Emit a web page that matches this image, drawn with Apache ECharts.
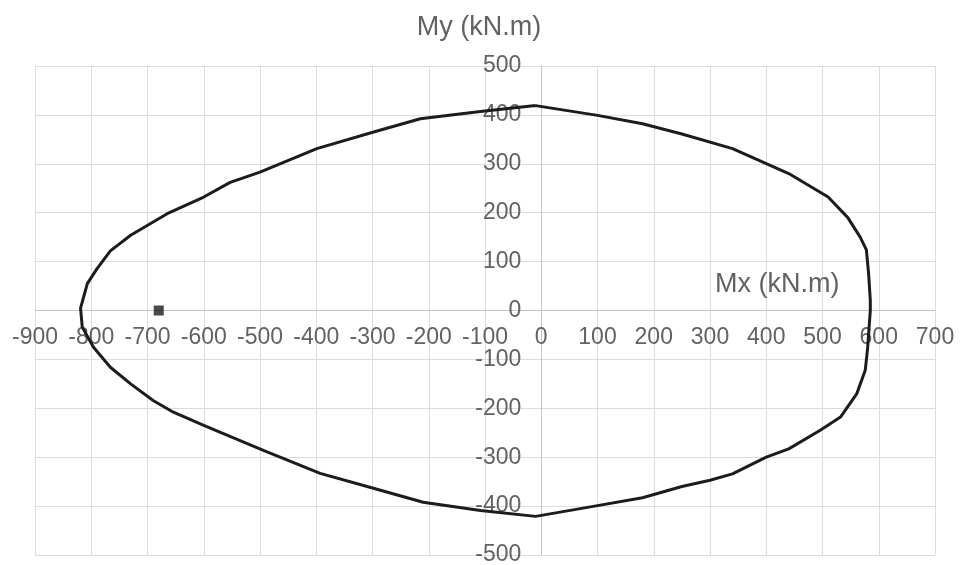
<!DOCTYPE html>
<html>
<head>
<meta charset="utf-8">
<script src="https://cdn.jsdelivr.net/npm/echarts@6/dist/echarts.min.js"></script>
<style>
html,body{margin:0;padding:0;background:#fff;}
#chart{width:960px;height:565px;}
</style>
</head>
<body>
<div id="chart"></div>
<script>
// Interaction envelope (closed curve), Mx / My in kN.m
const envMx = [-10, 100, 180, 250, 340, 440, 510, 545, 567, 578, 582, 585, 585, 580, 576, 561, 532, 496, 440, 400, 340, 300, 250, 180, 100, -10, -108, -210, -300, -393, -494, -600, -654, -690, -730, -766, -796, -816, -819, -807, -790, -766, -730, -665, -600, -553, -500, -399, -298, -215, -108, -10];
const envMy = [419, 399, 382, 361, 331, 280, 232, 190, 150, 124, 75, 20, 0, -80, -122, -170, -218, -245, -283, -300, -334, -347, -360, -383, -399, -421, -409, -392, -363, -333, -286, -235, -208, -184, -150, -116, -75, -34, 5, 55, 85, 122, 154, 198, 232, 262, 283, 331, 365, 392, 407, 419];
// Applied load point
const loadMx = [-680];
const loadMy = [0];
// Axis ranges
const xMin = -900, xMax = 700, xStep = 100;
const yMin = -500, yMax = 500, yStep = 100;
const xTitle = 'Mx (kN.m)';
const yTitle = 'My (kN.m)';

const envData = envMx.map((x, i) => [x, envMy[i]]);
const loadData = loadMx.map((x, i) => [x, loadMy[i]]);

const labelColor = '#626262';
const font = 'Liberation Sans, Arial, sans-serif';

// layout of plot area
const G = {left: 35, right: 25, top: 66, bottom: 10};
const W = 960 - G.left - G.right, H = 565 - G.top - G.bottom;
// shift axes so they cross at the origin (0,0)
const yAxisShift = -W * (0 - xMin) / (xMax - xMin);
const xAxisShift = -H * (0 - yMin) / (yMax - yMin);

const chart = echarts.init(document.getElementById('chart'));
chart.setOption({
  animation: false,
  backgroundColor: '#ffffff',
  grid: Object.assign({containLabel: false, outerBoundsMode: 'none'}, G),
  xAxis: {
    type: 'value', min: xMin, max: xMax, interval: xStep,
    position: 'bottom', offset: xAxisShift,
    name: xTitle, nameLocation: 'end', nameGap: -220,
    nameTextStyle: {color: labelColor, fontSize: 27, fontFamily: font, align: 'left', verticalAlign: 'bottom', padding: [0, 0, 12, 0]},
    axisLine: {onZero: false, lineStyle: {color: '#c4c4c4', width: 1}},
    axisTick: {show: false},
    axisLabel: {color: labelColor, fontSize: 23, fontFamily: font, margin: 16},
    splitLine: {show: true, lineStyle: {color: '#dcdcdc', width: 1}}
  },
  yAxis: {
    type: 'value', min: yMin, max: yMax, interval: yStep,
    position: 'left', offset: yAxisShift,
    name: yTitle, nameLocation: 'end', nameGap: 38,
    nameTextStyle: {color: labelColor, fontSize: 27, fontFamily: font, align: 'right', verticalAlign: 'middle'},
    axisLine: {onZero: false, lineStyle: {color: '#c4c4c4', width: 1}},
    axisTick: {show: false},
    axisLabel: {color: labelColor, fontSize: 23, fontFamily: font, margin: 20},
    splitLine: {show: true, lineStyle: {color: '#dcdcdc', width: 1}}
  },
  series: [
    {
      type: 'line', data: envData, showSymbol: false, smooth: false,
      lineStyle: {color: '#1c1c1c', width: 3}, z: 3
    },
    {
      type: 'scatter', data: loadData, symbol: 'rect', symbolSize: 10,
      itemStyle: {color: '#1c1c1c'}, z: 4
    }
  ]
});
</script>
</body>
</html>
